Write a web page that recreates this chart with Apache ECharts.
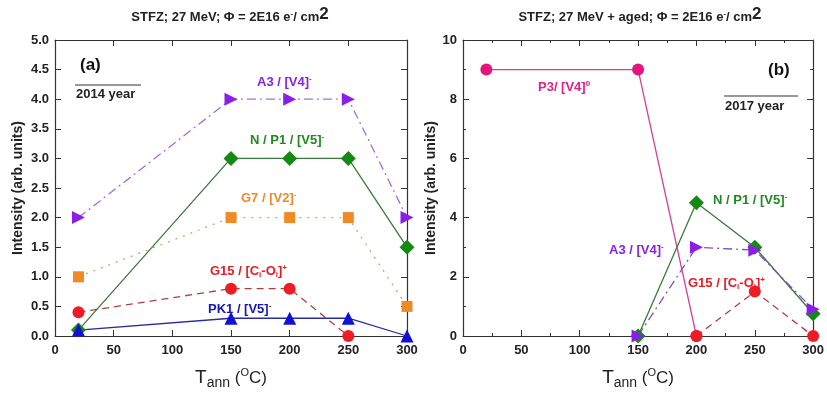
<!DOCTYPE html>
<html>
<head>
<meta charset="utf-8">
<script src="https://cdn.jsdelivr.net/npm/echarts@6/dist/echarts.min.js"></script>
<style>
  html, body { margin: 0; padding: 0; background: #fff; }
  #chart { width: 827px; height: 395px; }
</style>
</head>
<body>
<div id="chart"></div>
<script>
// panel (a) - 2014
const tempA = [20, 150, 200, 250, 300];
const a3A = [2, 4, 4, 4, 2];
const nP1A = [0.1, 3, 3, 3, 1.5];
const g7A = [1, 2, 2, 2, 0.5];
const g15A = [0.4, 0.8, 0.8, 0];
const pk1A = [0.1, 0.3, 0.3, 0.3, 0];

// panel (b) - 2017 aged
const p3B_x = [20, 150, 200];
const p3B = [9, 9, 0];
const nP1B_x = [150, 200, 250, 300];
const nP1B = [0, 4.5, 3, 0.75];
const a3B_x = [150, 200, 250, 300];
const a3B = [0, 3, 2.9, 0.9];
const g15B_x = [200, 250, 300];
const g15B = [0, 1.5, 0];

function pairs(xs, ys) { return ys.map((v, i) => [xs[i], v]); }

const font = 'Arial, "Liberation Sans", sans-serif';

function mkSeries(name, xi, yi, xs, ys, color, lineColor, lineType, symbol, size, rot) {
  return {
    name: name, type: 'line', xAxisIndex: xi, yAxisIndex: yi,
    data: pairs(xs, ys),
    symbol: symbol, symbolSize: size, symbolRotate: rot || 0,
    showAllSymbol: true, clip: false,
    itemStyle: { color: color },
    lineStyle: { color: lineColor, width: 1.3, type: lineType },
    z: 3
  };
}

function xAx(gi, minor) {
  return {
    type: 'value', gridIndex: gi, min: 0, max: 300, interval: 50,
    name: '{t|T}{s|ann} ({o|O}{t2|C})', nameLocation: 'middle', nameGap: 30,
    nameTextStyle: { rich: {
      t: { fontSize: 19, fontFamily: font, color: '#222' },
      s: { fontSize: 14, fontFamily: font, color: '#222', padding: [10, 0, 0, 0] },
      o: { fontSize: 11, fontFamily: font, color: '#222', padding: [0, 0, 10, 0] },
      t2: { fontSize: 17, fontFamily: font, color: '#222' }
    }, fontSize: 17, fontFamily: font, color: '#222' },
    axisLine: { onZero: false, lineStyle: { color: '#333', width: 1.2 } },
    axisTick: { inside: true, length: 6, lineStyle: { color: '#333' } },
    minorTick: { show: minor, splitNumber: 2, length: 3, lineStyle: { color: '#333' } },
    splitLine: { show: false },
    axisLabel: { fontSize: 13, fontWeight: 'bold', color: '#222', fontFamily: font, margin: 8 }
  };
}
function xTop(gi, minor) {
  return {
    type: 'value', gridIndex: gi, min: 0, max: 300, interval: 50, position: 'top',
    axisLine: { onZero: false, lineStyle: { color: '#333', width: 1.2 } },
    axisTick: { inside: true, length: 6, lineStyle: { color: '#333' } },
    minorTick: { show: minor, splitNumber: 2, length: 3, lineStyle: { color: '#333' } },
    splitLine: { show: false }, axisLabel: { show: false }
  };
}
function yAx(gi, max, interval, minor, fmt, gap) {
  return {
    type: 'value', gridIndex: gi, min: 0, max: max, interval: interval,
    name: 'Intensity (arb. units)', nameLocation: 'middle', nameGap: gap,
    nameTextStyle: { fontSize: 14, fontWeight: 'bold', color: '#222', fontFamily: font },
    axisLine: { show: true, onZero: false, lineStyle: { color: '#333', width: 1.2 } },
    axisTick: { show: true, inside: true, length: 6, lineStyle: { color: '#333' } },
    minorTick: { show: minor, splitNumber: 2, length: 3, lineStyle: { color: '#333' } },
    splitLine: { show: false },
    axisLabel: { fontSize: 13, fontWeight: 'bold', color: '#222', fontFamily: font, margin: 6, formatter: fmt }
  };
}
function yRight(gi, max, interval, minor) {
  return {
    type: 'value', gridIndex: gi, min: 0, max: max, interval: interval, position: 'right',
    axisLine: { show: true, onZero: false, lineStyle: { color: '#333', width: 1.2 } },
    axisTick: { show: true, inside: true, length: 6, lineStyle: { color: '#333' } },
    minorTick: { show: minor, splitNumber: 2, length: 3, lineStyle: { color: '#333' } },
    splitLine: { show: false }, axisLabel: { show: false }
  };
}

function txt(x, y, text, color, size, align) {
  return {
    type: 'text', x: x, y: y, z: 10,
    style: {
      text: text, fill: color, fontSize: size || 13, fontWeight: 'bold', fontFamily: font,
      align: align || 'left', verticalAlign: 'top', rich: {
        sup: { fontSize: 8, fontWeight: 'bold', fill: color, fontFamily: font, padding: [0, 0, 7, 0] },
        sub: { fontSize: 8, fontWeight: 'bold', fill: color, fontFamily: font, padding: [6, 0, 0, 0] },
        big: { fontSize: 17, fontWeight: 'bold', fill: color, fontFamily: font, padding: [0, 0, 6, 0] }
      }
    }
  };
}
function rule(x1, x2, y) {
  return { type: 'line', z: 10, shape: { x1: x1, y1: y, x2: x2, y2: y }, style: { stroke: '#333', lineWidth: 1 } };
}

const chart = echarts.init(document.getElementById('chart'));
chart.setOption({
  animation: false,
  backgroundColor: '#fff',
  grid: [
    { left: 55, right: 420, top: 40, bottom: 52 },
    { left: 463, right: 10, top: 40, bottom: 53 }
  ],
  xAxis: [xAx(0, false), xAx(1, true), xTop(0, false), xTop(1, true)],
  yAxis: [
    yAx(0, 5, 0.5, false, v => v.toFixed(1), 30),
    yAx(1, 10, 2, true, v => v, 25),
    yRight(0, 5, 0.5, false),
    yRight(1, 10, 2, true)
  ],
  series: [
    mkSeries('A3 a', 0, 0, tempA, a3A, '#8a1fe8', '#a46ee0', [9, 4, 2, 4], 'triangle', 13, -90),
    mkSeries('G7 a', 0, 0, tempA, g7A, '#f08a24', '#d9a05a', [2, 6], 'rect', 11),
    mkSeries('N a', 0, 0, tempA, nP1A, '#138a13', '#3b7a3b', 'solid', 'diamond', 15),
    mkSeries('G15 a', 0, 0, tempA, g15A, '#ee1c24', '#b04040', [7, 5], 'circle', 12),
    mkSeries('PK1 a', 0, 0, tempA, pk1A, '#1010d8', '#2a2aa0', 'solid', 'triangle', 13),
    mkSeries('P3 b', 1, 1, p3B_x, p3B, '#e8147e', '#d040a0', 'solid', 'circle', 12),
    mkSeries('N b', 1, 1, nP1B_x, nP1B, '#138a13', '#3b7a3b', 'solid', 'diamond', 15),
    mkSeries('A3 b', 1, 1, a3B_x, a3B, '#8a1fe8', '#7a50c8', [9, 4, 2, 4], 'triangle', 13, -90),
    mkSeries('G15 b', 1, 1, g15B_x, g15B, '#ee1c24', '#b04040', [7, 5], 'circle', 12)
  ],
  graphic: [
    txt(230, 6, 'STFZ; 27 MeV; \u03A6 = 2E16 e{sup|-}/ cm{big|2}', '#222', 13, 'center'),
    txt(640, 6, 'STFZ; 27 MeV + aged; \u03A6 = 2E16 e{sup|-}/ cm{big|2}', '#222', 13, 'center'),
    txt(80, 57, '(a)', '#111', 17),
    rule(75, 141, 85),
    txt(76, 88, '2014 year', '#222', 13),
    txt(257, 75, 'A3 / [V4]{sup|-}', '#8a1fe8', 13),
    txt(250, 133, 'N / P1 / [V5]{sup|-}', '#1f8a1f', 13),
    txt(241, 191, 'G7 / [V2]{sup|-}', '#f08a24', 13),
    txt(210, 264, 'G15 / [C{sub|i}-O{sub|i}]{sup|+}', '#e51c24', 13),
    txt(208, 302, 'PK1 / [V5]{sup|-}', '#1515c0', 13),
    txt(768, 62, '(b)', '#111', 17),
    rule(724, 798, 96),
    txt(725, 100, '2017 year', '#222', 13),
    txt(538, 80, 'P3/ [V4]{sup|0}', '#e0208a', 13),
    txt(713, 193, 'N / P1 / [V5]{sup|-}', '#1f8a1f', 13),
    txt(609, 243, 'A3 / [V4]{sup|-}', '#8a1fe8', 13),
    txt(688, 276, 'G15 / [C{sub|i}-O{sub|i}]{sup|+}', '#e51c24', 13)
  ]
});
</script>
</body>
</html>
